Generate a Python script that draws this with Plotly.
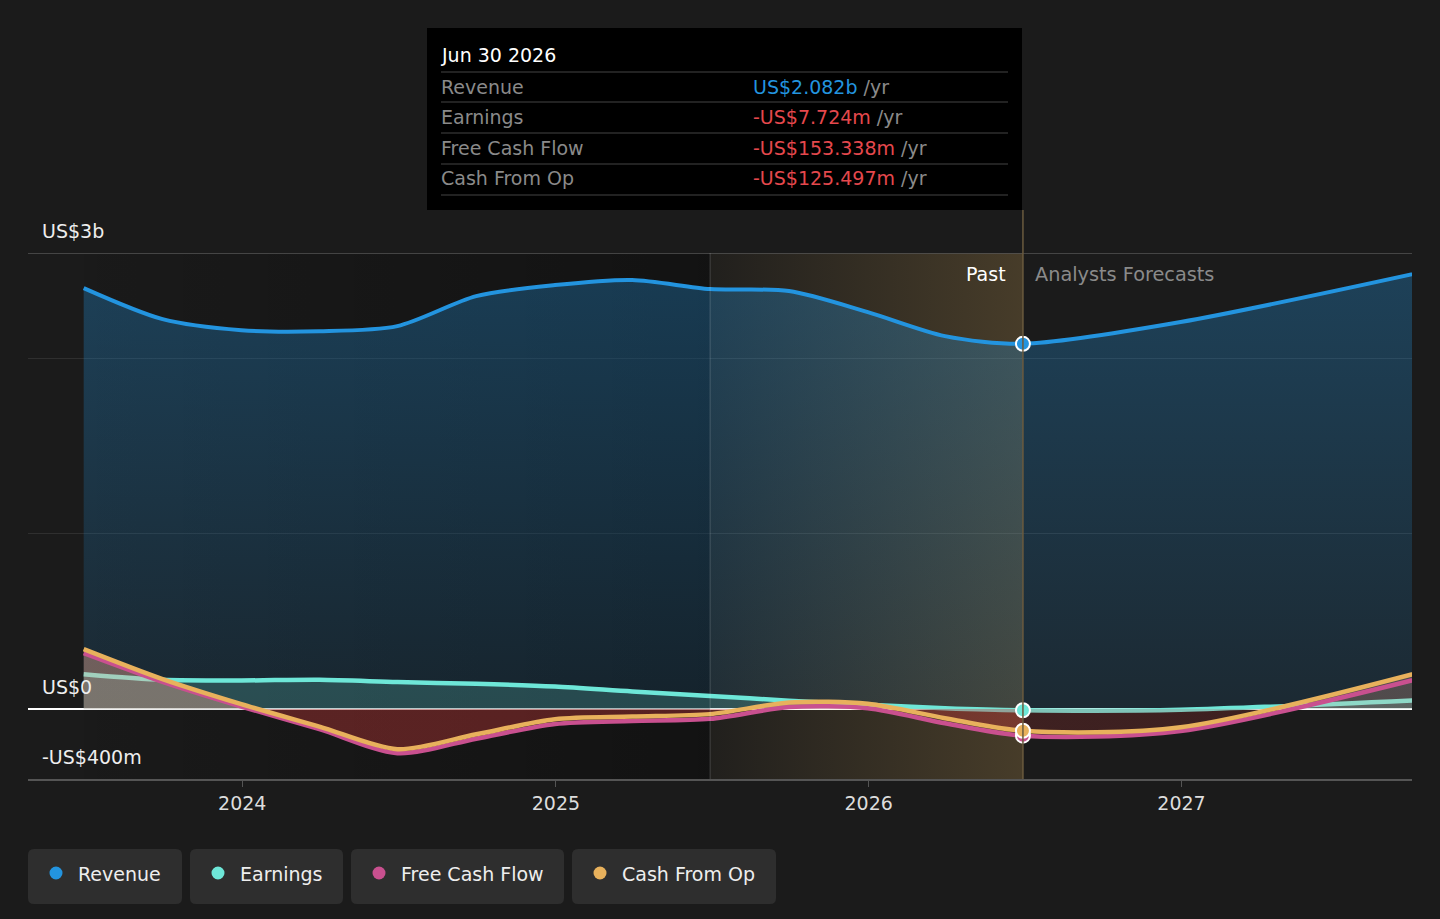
import plotly.graph_objects as go

# quarterly history (billions US$), then analyst forecasts
hist_dates = ["2023-06-30", "2023-09-30", "2023-12-31", "2024-03-31", "2024-06-30",
              "2024-09-30", "2024-12-31", "2025-03-31", "2025-06-30", "2025-09-30",
              "2025-12-31", "2026-03-31", "2026-06-30"]
fc_dates = ["2026-12-31", "2027-12-31"]

revenue_hist = [2.400, 2.223, 2.160, 2.154, 2.183, 2.354, 2.417, 2.446, 2.394, 2.383, 2.263, 2.126, 2.082]
revenue_fc = [2.206, 2.580]
earnings_hist = [0.198, 0.166, 0.162, 0.166, 0.153, 0.143, 0.127, 0.099, 0.074, 0.047, 0.023, 0.004, -0.0077]
earnings_fc = [-0.005, 0.070]
fcf_hist = [0.318, 0.154, 0.013, -0.116, -0.253, -0.170, -0.086, -0.069, -0.057, 0.010, 0.004, -0.082, -0.153]
fcf_fc = [-0.126, 0.280]
cfo_hist = [0.341, 0.170, 0.027, -0.101, -0.230, -0.145, -0.059, -0.044, -0.030, 0.036, 0.029, -0.053, -0.125]
cfo_fc = [-0.105, 0.320]

tick_years = ["2024-01-01", "2025-01-01", "2026-01-01", "2027-01-01"]
tick_text = ["2024", "2025", "2026", "2027"]

hover_date = "2026-06-30"
past_start = "2025-06-30"
hover_rows = [
    ("Revenue", "US$2.082b", "#2394df"),
    ("Earnings", "-US$7.724m", "#e5484d"),
    ("Free Cash Flow", "-US$153.338m", "#e5484d"),
    ("Cash From Op", "-US$125.497m", "#e5484d"),
]

series = [
    ("Revenue", "#2394df"),
    ("Earnings", "#6ee7d8"),
    ("Free Cash Flow", "#c9508f"),
    ("Cash From Op", "#e8b15c"),
]

FONT = "DejaVu Sans"
W, H = 1440, 919
L, R, T, B = 28, 28, 253, 140
Y_MIN, Y_MAX = -0.4, 2.6


def px_x(px):
    return (px - L) / (W - L - R)


def px_y(py):
    return (H - B - py) / (H - T - B)


def rounded_rect(x0, y0, x1, y1, r):
    pts = []
    ax, bx, ay, by = px_x(x0), px_x(x1), px_y(y1), px_y(y0)
    rx, ry = r / (W - L - R), r / (H - T - B)
    pts.append(f"M {ax + rx},{ay}")
    pts.append(f"L {bx - rx},{ay} Q {bx},{ay} {bx},{ay + ry}")
    pts.append(f"L {bx},{by - ry} Q {bx},{by} {bx - rx},{by}")
    pts.append(f"L {ax + rx},{by} Q {ax},{by} {ax},{by - ry}")
    pts.append(f"L {ax},{ay + ry} Q {ax},{ay} {ax + rx},{ay} Z")
    return " ".join(pts)


def text(txt, x, y, size=19, color="#eeeeee", anchor="left"):
    shift = -2 if anchor == "left" else 1
    return dict(text=txt, xref="paper", yref="paper", x=px_x(x + shift), y=px_y(y),
                xanchor=anchor, yanchor="middle", showarrow=False,
                font=dict(family=FONT, size=size, color=color))


def split_fill(alpha_neg, alpha_pos):
    zp = (0 - Y_MIN) / (Y_MAX - Y_MIN)
    neg = f"rgba(200,55,55,{alpha_neg})"
    pos = f"rgba(238,172,148,{alpha_pos})"
    return dict(type="vertical", start=Y_MIN, stop=Y_MAX,
                colorscale=[[0, neg], [zp, neg], [zp + 0.0005, pos], [1, pos]])


x_all = hist_dates + fc_dates
x_fc = [hist_dates[-1]] + fc_dates
fig = go.Figure()

# darker band under the history, then the "past" highlight
fig.add_trace(go.Scatter(
    x=[hist_dates[0], past_start, past_start, hist_dates[0], hist_dates[0]],
    y=[Y_MIN, Y_MIN, Y_MAX, Y_MAX, Y_MIN], mode="lines", line=dict(width=0),
    fill="toself", fillgradient=dict(type="horizontal",
                                     colorscale=[[0, "rgba(0,0,0,0.05)"], [1, "rgba(0,0,0,0.32)"]]),
    hoverinfo="skip", showlegend=False))
fig.add_trace(go.Scatter(
    x=[past_start, hover_date, hover_date, past_start, past_start],
    y=[Y_MIN, Y_MIN, Y_MAX, Y_MAX, Y_MIN], mode="lines", line=dict(width=0),
    fill="toself", fillgradient=dict(type="horizontal",
                                     colorscale=[[0, "rgba(227,178,92,0.03)"], [1, "rgba(227,178,92,0.22)"]]),
    hoverinfo="skip", showlegend=False))

fig.add_trace(go.Scatter(
    x=x_all, y=revenue_hist + revenue_fc, mode="lines",
    line=dict(color="#2394df", width=4, shape="spline", smoothing=0.8),
    fill="tozeroy", fillgradient=dict(type="vertical",
                                      colorscale=[[0, "rgba(35,148,223,0.12)"], [1, "rgba(35,148,223,0.32)"]]),
    hoverinfo="skip", showlegend=False))
fig.add_trace(go.Scatter(
    x=x_all, y=earnings_hist + earnings_fc, mode="lines",
    line=dict(color="#6ee7d8", width=4.5, shape="spline", smoothing=0.8),
    fill="tozeroy", fillcolor="rgba(110,231,216,0.2)",
    hoverinfo="skip", showlegend=False))

# cash from op area: red below zero, pale above; dimmer over the forecast
fig.add_trace(go.Scatter(
    x=hist_dates, y=cfo_hist, mode="lines", line=dict(width=0, shape="spline", smoothing=0.8),
    fill="tozeroy", fillgradient=split_fill(0.38, 0.4), hoverinfo="skip", showlegend=False))
fig.add_trace(go.Scatter(
    x=x_fc, y=[cfo_hist[-1]] + cfo_fc, mode="lines", line=dict(width=0, shape="spline", smoothing=0.8),
    fill="tozeroy", fillgradient=split_fill(0.2, 0.25), hoverinfo="skip", showlegend=False))

fig.add_trace(go.Scatter(
    x=x_all, y=fcf_hist + fcf_fc, mode="lines",
    line=dict(color="#c9508f", width=4.5, shape="spline", smoothing=0.8),
    hoverinfo="skip", showlegend=False))
fig.add_trace(go.Scatter(
    x=x_all, y=cfo_hist + cfo_fc, mode="lines",
    line=dict(color="#e8b15c", width=4.5, shape="spline", smoothing=0.8),
    hoverinfo="skip", showlegend=False))

# hover markers at the last reported point
for vals, col in [(revenue_hist, "#2394df"), (earnings_hist, "#6ee7d8"),
                  (fcf_hist, "#c9508f"), (cfo_hist, "#e8b15c")]:
    fig.add_trace(go.Scatter(
        x=[hist_dates[-1]], y=[vals[-1]], mode="markers",
        marker=dict(color=col, size=14, line=dict(color="white", width=2)),
        hoverinfo="skip", showlegend=False))

shapes = [
    dict(type="line", xref="paper", yref="y", x0=0, x1=1, y0=Y_MAX, y1=Y_MAX,
         line=dict(color="#555555", width=1.5)),
    dict(type="line", xref="x", yref="paper", x0=past_start, x1=past_start, y0=0, y1=1,
         line=dict(color="rgba(255,255,255,0.12)", width=1.5)),
    dict(type="line", xref="x", yref="paper", x0=hover_date, x1=hover_date, y0=0, y1=px_y(210),
         line=dict(color="#6b5b3e", width=1.5)),
    # tooltip box
    dict(type="rect", xref="paper", yref="paper", x0=px_x(427), x1=px_x(1022),
         y0=px_y(210), y1=px_y(28), fillcolor="#000000", line=dict(width=0)),
]
for sep in [72, 102, 133, 164, 195]:
    shapes.append(dict(type="line", xref="paper", yref="paper", x0=px_x(441), x1=px_x(1008),
                       y0=px_y(sep), y1=px_y(sep), line=dict(color="#444444", width=1.2)))

annotations = []
for txt, val in [("US$3b", Y_MAX), ("US$0", 0), ("-US$400m", Y_MIN)]:
    annotations.append(dict(text=txt, xref="paper", yref="y", x=px_x(40), y=val,
                            xanchor="left", yanchor="bottom", yshift=9, showarrow=False,
                            font=dict(family=FONT, size=19, color="#eeeeee")))

annotations.append(text("Jun 30 2026", 441, 55, size=19, color="#ffffff"))
for lab_row, yc in zip(hover_rows, [87, 117, 148, 178]):
    lab, val, col = lab_row
    annotations.append(text(lab, 441, yc, color="#8a8a8a"))
    annotations.append(text(f"<span style='color:{col}'>{val}</span> /yr", 753, yc, color="#8a8a8a"))

annotations.append(text("Past", 1007, 274, color="#ffffff", anchor="right"))
annotations.append(text("Analysts Forecasts", 1035, 274, size=19.3, color="#8a8a8a"))

# legend chips
chip_x = [(28, 182), (190, 343), (351, 564), (572, 776)]
for (name, col), (cx0, cx1) in zip(series, chip_x):
    shapes.append(dict(type="path", xref="paper", yref="paper",
                       path=rounded_rect(cx0, 849, cx1, 904, 6),
                       fillcolor="#2e2e2e", line=dict(width=0)))
    dx = cx0 + 28
    shapes.append(dict(type="circle", xref="paper", yref="paper",
                       x0=px_x(dx - 6.5), x1=px_x(dx + 6.5), y0=px_y(873 + 6.5), y1=px_y(873 - 6.5),
                       fillcolor=col, line=dict(width=0)))
    annotations.append(text(name, cx0 + 50, 874))

fig.update_layout(
    width=W, height=H,
    margin=dict(l=L, r=R, t=T, b=B),
    paper_bgcolor="#1b1b1b", plot_bgcolor="#1b1b1b",
    font=dict(family=FONT, color="#dddddd"),
    shapes=shapes, annotations=annotations,
    xaxis=dict(type="date", range=["2023-04-26", "2027-09-27"],
               tickvals=tick_years, ticktext=tick_text, showgrid=False,
               ticks="outside", ticklen=6, tickcolor="#555555",
               showline=True, linecolor="#555555", linewidth=1.5,
               tickfont=dict(family=FONT, size=19, color="#dddddd"), fixedrange=True),
    yaxis=dict(range=[Y_MIN, Y_MAX], tickvals=[0, 1, 2], showticklabels=False,
               gridcolor="rgba(255,255,255,0.09)", zeroline=True, zerolinecolor="#ffffff",
               zerolinewidth=1.5, fixedrange=True),
)

fig.write_html("out.html", config={"displayModeBar": False},
               post_script="document.body.style.margin='0';document.body.style.background='#1b1b1b';")
